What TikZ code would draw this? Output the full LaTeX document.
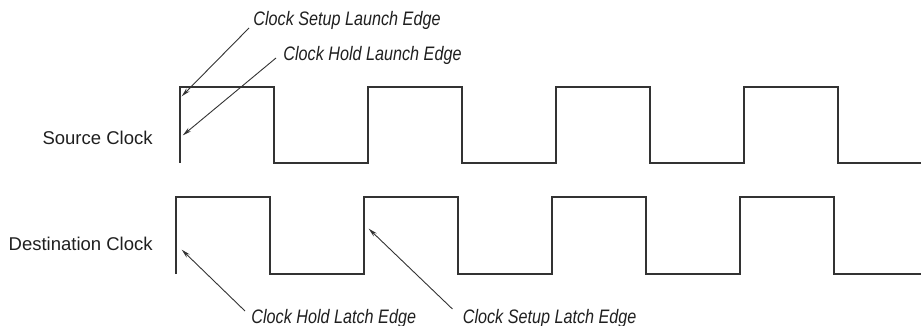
\documentclass[tikz,border=0pt]{standalone}
\usepackage{fontspec}
\setmainfont{Liberation Sans}
\newfontfamily\edgefont{Liberation Sans}[FakeStretch=0.83]
\usetikzlibrary{positioning,arrows.meta}

\begin{document}
\begin{tikzpicture}[
    x=0.5pt, y=-0.5pt,
    wave/.style    = {line width=0.75pt, color=black!80, line join=miter},
    pointer/.style = {-{Stealth[length=4.5pt, width=2.2pt]}, line width=0.45pt,
                      color=black!80, shorten >=0.5pt},
    clklabel/.style = {anchor=base east, inner sep=0pt, text=black!88,
                      font=\fontsize{9.25}{11}\selectfont},
    edgelabel/.style = {anchor=base west, inner sep=0pt, text=black!88,
                      font=\edgefont\itshape\fontsize{9.75}{11}\selectfont},
]

% --- frame ---
\useasboundingbox (0,0) rectangle (921,326);
\clip (0,0) rectangle (921,326);

% --- clock names ---
\node[clklabel] (src) at (153,145) {Source Clock};
\node[clklabel] (dst) at (153,250) {Destination Clock};

% --- waveforms ---
\draw[wave] (180,163) \foreach \i in {0,...,3} {
    -- ++(0,-76) -- ++(94,0) -- ++(0,76) -- ++(94,0)};
\draw[wave] (176,274) \foreach \i in {0,...,3} {
    -- ++(0,-77) -- ++(94,0) -- ++(0,77) -- ++(94,0)};

% --- edge points ---
\coordinate (slTip) at (181,97);
\coordinate (hlTip) at (182,136);
\coordinate (hcTip) at (181,249);
\coordinate (scTip) at (368,228);

% --- edge names ---
\node[edgelabel] (sl) at (253,26) {Clock Setup Launch Edge};
\node[edgelabel] (hl) at (283,61) {Clock Hold Launch Edge};
\node[edgelabel] (hc) at (251,323) {Clock Hold Latch Edge};
\node[edgelabel, right=23pt of hc.base east, anchor=base west] (sc)
    {Clock Setup Latch Edge};

% --- arrows ---
\draw[pointer] ([xshift=-2pt, yshift=-1pt]sl.base west) -- (slTip);
\draw[pointer] ([xshift=-3.5pt, yshift=1.5pt]hl.base west) -- (hlTip);
\draw[pointer] ([xshift=-3pt, yshift=6pt]hc.base west) -- (hcTip);
\draw[pointer] ([xshift=-5pt, yshift=7pt]sc.base west) -- (scTip);

\end{tikzpicture}
\end{document}
